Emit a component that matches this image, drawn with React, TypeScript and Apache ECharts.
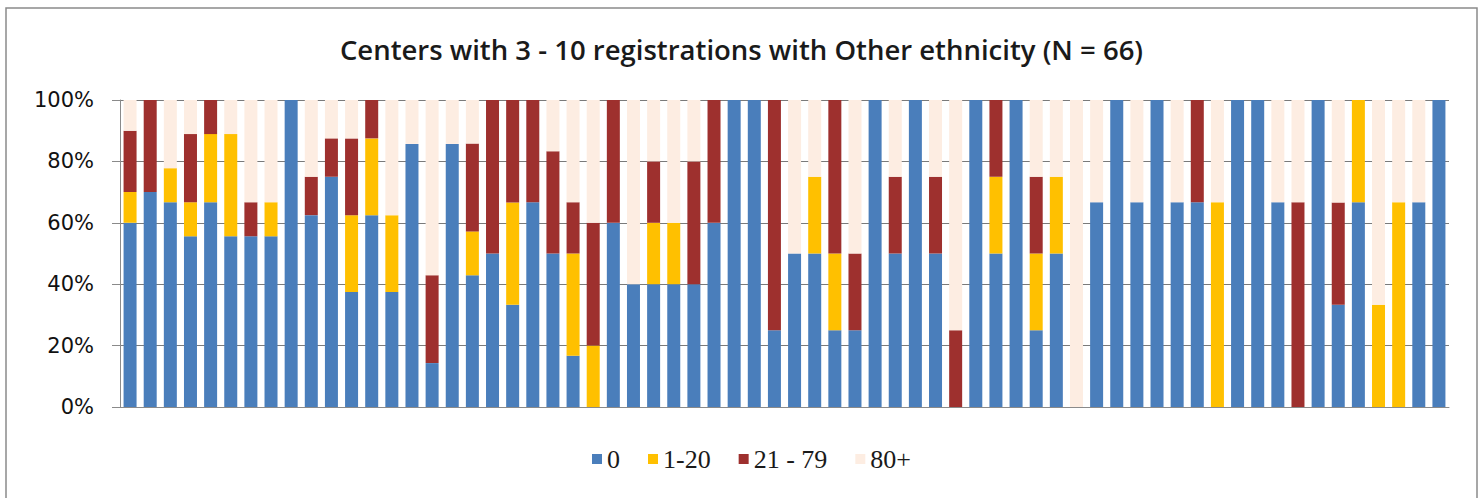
import React, { useEffect, useRef } from "react";
import * as echarts from "echarts";

// One entry per center (N = 66); each value is the share (%) of registrations in that band.
const centers: string[] = Array.from({ length: 66 }, (_, i) => `Center ${i + 1}`);

const band0: number[] = [
  60, 70, 66.7, 55.6, 66.7, 55.6, 55.6, 55.6, 100, 62.5,
  75, 37.5, 62.5, 37.5, 85.7, 14.3, 85.7, 42.9, 50, 33.3,
  66.7, 50, 16.7, 0, 60, 40, 40, 40, 40, 60,
  100, 100, 25, 50, 50, 25, 25, 100, 50, 100,
  50, 0, 100, 50, 100, 25, 50, 0, 66.7, 100,
  66.7, 100, 66.7, 66.7, 0, 100, 100, 66.7, 0, 100,
  33.3, 66.7, 0, 0, 66.7, 100,
];

const band1to20: number[] = [
  10, 0, 11.1, 11.1, 22.2, 33.3, 0, 11.1, 0, 0,
  0, 25, 25, 25, 0, 0, 0, 14.3, 0, 33.3,
  0, 0, 33.3, 20, 0, 0, 20, 20, 0, 0,
  0, 0, 0, 0, 25, 25, 0, 0, 0, 0,
  0, 0, 0, 25, 0, 25, 25, 0, 0, 0,
  0, 0, 0, 0, 66.7, 0, 0, 0, 0, 0,
  0, 33.3, 33.3, 66.7, 0, 0,
];

const band21to79: number[] = [
  20, 30, 0, 22.2, 11.1, 0, 11.1, 0, 0, 12.5,
  12.5, 25, 12.5, 0, 0, 28.6, 0, 28.6, 50, 33.4,
  33.3, 33.3, 16.7, 40, 40, 0, 20, 0, 40, 40,
  0, 0, 75, 0, 0, 50, 25, 0, 25, 0,
  25, 25, 0, 25, 0, 25, 0, 0, 0, 0,
  0, 0, 0, 33.3, 0, 0, 0, 0, 66.7, 0,
  33.3, 0, 0, 0, 0, 0,
];

const band80plus: number[] = [
  10, 0, 22.2, 11.1, 0, 11.1, 33.3, 33.3, 0, 25,
  12.5, 12.5, 0, 37.5, 14.3, 57.1, 14.3, 14.2, 0, 0,
  0, 16.7, 33.3, 40, 0, 60, 20, 40, 20, 0,
  0, 0, 0, 50, 25, 0, 50, 0, 25, 0,
  25, 75, 0, 0, 0, 25, 25, 100, 33.3, 0,
  33.3, 0, 33.3, 0, 33.3, 0, 0, 33.3, 33.3, 0,
  33.4, 0, 66.7, 33.3, 33.3, 0,
];

const yTicks: number[] = [0, 20, 40, 60, 80, 100];

const seriesNames = ["0", "1-20", "21 - 79", "80+"];
const seriesColors = ["#4a7ebb", "#ffc000", "#9e302e", "#fdede2"];

export default function App() {
  const ref = useRef<HTMLDivElement>(null);

  useEffect(() => {
    if (!ref.current) return;
    const chart = echarts.init(ref.current, null, { renderer: "svg" });
    const values = [band0, band1to20, band21to79, band80plus];

    chart.setOption({
      animation: false,
      backgroundColor: "#ffffff",
      title: {
        text: "Centers with 3 - 10 registrations with Other ethnicity (N = 66)",
        left: "center",
        top: 30,
        textStyle: {
          fontFamily: "'Open Sans', sans-serif",
          fontSize: 27.5,
          fontWeight: 600,
          color: "#1a1a1a",
        },
      },
      graphic: [
        {
          type: "rect",
          shape: { x: 6, y: 8, width: 1471, height: 492 },
          style: { fill: "none", stroke: "#8a8a8a", lineWidth: 1.5 },
          silent: true,
        },
      ],
      legend: {
        data: seriesNames,
        bottom: 21,
        left: 587,
        icon: "rect",
        itemWidth: 10,
        itemHeight: 10,
        itemGap: 28,
        textStyle: {
          fontFamily: "'Liberation Serif', serif",
          fontSize: 26,
          color: "#1a1a1a",
        },
      },
      grid: {
        left: 120,
        right: 34,
        top: 100,
        bottom: 91,
        containLabel: false,
      },
      xAxis: {
        type: "category",
        data: centers,
        axisLine: { show: true, lineStyle: { color: "#8a8a8a", width: 1 } },
        axisTick: { show: false },
        axisLabel: { show: false },
      },
      yAxis: {
        type: "value",
        min: yTicks[0],
        max: yTicks[yTicks.length - 1],
        interval: 20,
        axisLine: { show: true, lineStyle: { color: "#8a8a8a", width: 1 } },
        axisTick: { show: true, length: 8, lineStyle: { color: "#8a8a8a" } },
        axisLabel: {
          formatter: "{value}%",
          margin: 26,
          fontFamily: "'DejaVu Sans', sans-serif",
          fontSize: 21,
          color: "#111111",
        },
        splitLine: { show: true, lineStyle: { color: "#7a7a7a", width: 1 } },
      },
      series: seriesNames.map((name, i) => ({
        name,
        type: "bar",
        stack: "share",
        barWidth: 13,
        data: values[i],
        itemStyle: { color: seriesColors[i] },
      })),
    });

    return () => chart.dispose();
  }, []);

  return (
    <div
      ref={ref}
      style={{ position: "fixed", left: 0, top: 0, width: 1483, height: 498 }}
    />
  );
}
